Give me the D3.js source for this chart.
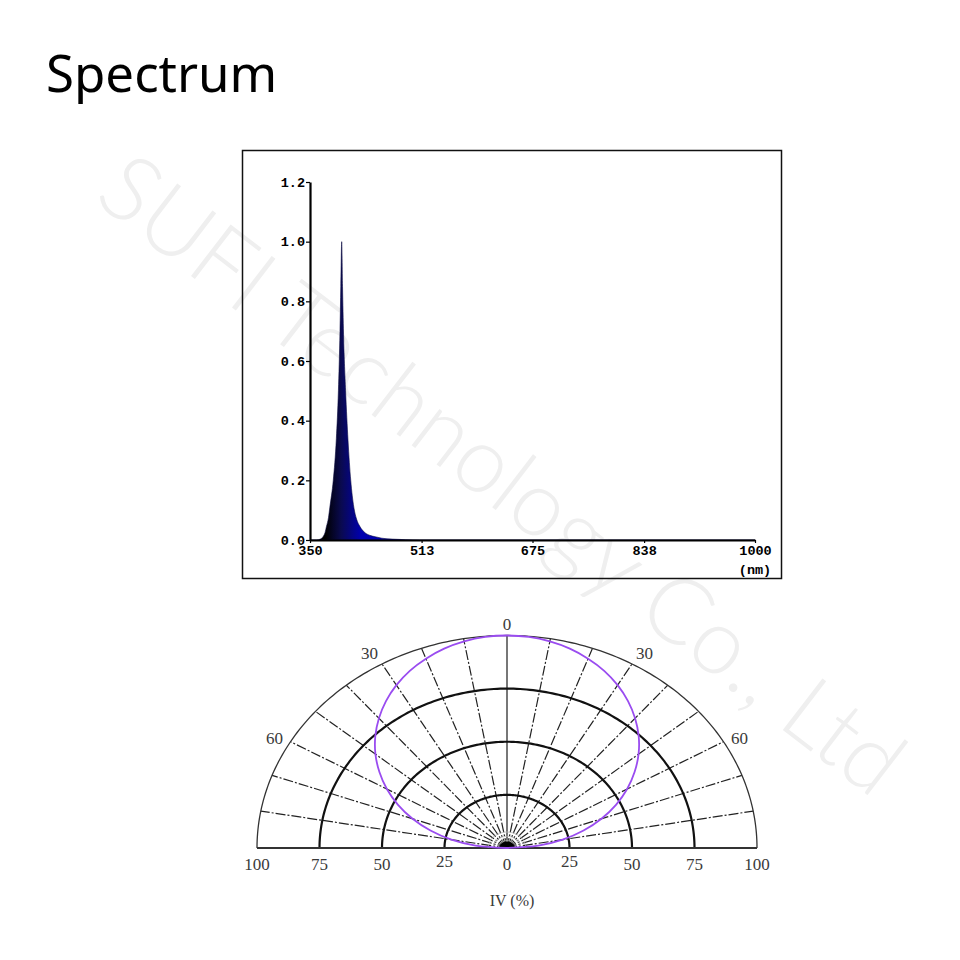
<!DOCTYPE html>
<html>
<head>
<meta charset="utf-8">
<script src="https://cdn.jsdelivr.net/npm/d3@7/dist/d3.min.js"></script>
<style>
  html, body { margin: 0; padding: 0; background: #fff; }
  svg { display: block; }
</style>
</head>
<body>
<svg id="chart" width="960" height="960"></svg>
<script>
// ---------- Data ----------
const titleText = "Spectrum";
const watermarkText = "SUFI Technology Co., Ltd";

// Spectrum: wavelength (nm) and relative intensity
const wavelengths = [350, 360, 365, 369, 372, 374, 377, 379, 384, 388.5, 391.5, 393.8, 395, 396.3, 397.5, 399, 402, 405.5, 409.5, 414, 418, 423, 430, 437, 445, 455, 470, 490, 510, 1000];
const intensities = [0, 0, 0.003, 0.011, 0.025, 0.045, 0.075, 0.11, 0.2, 0.34, 0.5, 0.7, 0.85, 1.0, 0.85, 0.69, 0.5, 0.335, 0.2, 0.11, 0.07, 0.045, 0.025, 0.016, 0.011, 0.006, 0.003, 0.001, 0, 0];
const xTickValues = [350, 513, 675, 838, 1000];
const yTickValues = [0, 0.2, 0.4, 0.6, 0.8, 1.0, 1.2];
const xUnitLabel = "(nm)";

// Polar radiation pattern: angle (deg) and relative intensity IV (%)
const angles = [-90, -85, -80, -75, -70, -65, -60, -55, -50, -45, -40, -35, -30, -25, -20, -15, -10, -5, 0, 5, 10, 15, 20, 25, 30, 35, 40, 45, 50, 55, 60, 65, 70, 75, 80, 85, 90];
const ivValues = [0, 12.6, 22.6, 31.7, 40.2, 48.1, 55.5, 62.3, 68.7, 74.5, 79.7, 84.4, 88.5, 92.0, 94.8, 97.1, 98.7, 99.7, 100, 99.7, 98.7, 97.1, 94.8, 92.0, 88.5, 84.4, 79.7, 74.5, 68.7, 62.3, 55.5, 48.1, 40.2, 31.7, 22.6, 12.6, 0];
const ringValues = [25, 50, 75, 100];
const spokeAngles = [-80, -70, -60, -50, -40, -30, -20, -10, 10, 20, 30, 40, 50, 60, 70, 80];
const angleLabels = [0, -30, 30, -60, 60];
const radialTickValues = [-100, -75, -50, -25, 0, 25, 50, 75, 100];
const polarAxisTitle = "IV (%)";

// ---------- Setup ----------
const svg = d3.select("#chart");

// Watermark
svg.append("text")
  .attr("transform", "translate(92,200) rotate(37.5)")
  .attr("font-family", "Lato, 'Open Sans', sans-serif")
  .attr("font-weight", 300)
  .attr("font-size", 92)
  .attr("fill", "#efefef")
  .attr("textLength", 985)
  .attr("lengthAdjust", "spacingAndGlyphs")
  .text(watermarkText);

// Title
svg.append("text")
  .attr("x", 46).attr("y", 92)
  .attr("font-family", "'Noto Sans', sans-serif")
  .attr("font-size", 51)
  .attr("fill", "#000")
  .text(titleText);

// ---------- Spectrum chart ----------
svg.append("rect")
  .attr("x", 242.5).attr("y", 150.5)
  .attr("width", 539).attr("height", 428)
  .attr("fill", "none").attr("stroke", "#111").attr("stroke-width", 1.5);

const sx = d3.scaleLinear().domain([350, 1000]).range([310, 755]);
const sy = d3.scaleLinear().domain([0, 1.2]).range([540, 182]);

const defs = svg.append("defs");
const grad = defs.append("linearGradient")
  .attr("id", "peakGrad")
  .attr("gradientUnits", "userSpaceOnUse")
  .attr("x1", sx(372)).attr("y1", 0)
  .attr("x2", sx(425)).attr("y2", 0);
grad.append("stop").attr("offset", "0%").attr("stop-color", "#000000");
grad.append("stop").attr("offset", "45%").attr("stop-color", "#0a0a50");
grad.append("stop").attr("offset", "100%").attr("stop-color", "#0000b0");

const specData = wavelengths.map((w, i) => ({ w, v: intensities[i] }));
const area = d3.area()
  .x(d => sx(d.w))
  .y0(sy(0))
  .y1(d => sy(d.v))
  .curve(d3.curveMonotoneX);

svg.append("path")
  .datum(specData)
  .attr("d", area)
  .attr("fill", "url(#peakGrad)")
  .attr("stroke", "#0a0a40")
  .attr("stroke-width", 0.6);

const monoFont = "'Liberation Mono', 'Courier New', monospace";
const monoSize = 13.5;

const xAxis = d3.axisBottom(sx)
  .tickValues(xTickValues)
  .tickFormat(d3.format("d"))
  .tickSizeInner(3).tickSizeOuter(0).tickPadding(2);
const gx = svg.append("g").attr("transform", `translate(0,${sy(0)})`).call(xAxis);
gx.select(".domain").attr("stroke", "#000").attr("stroke-width", 2.2);
gx.selectAll(".tick line").attr("stroke", "#000").attr("stroke-width", 1.2);
gx.selectAll(".tick text")
  .attr("font-family", monoFont).attr("font-weight", "bold")
  .attr("font-size", monoSize).attr("fill", "#000");

const yAxis = d3.axisLeft(sy)
  .tickValues(yTickValues)
  .tickFormat(d3.format(".1f"))
  .tickSizeInner(4).tickSizeOuter(0).tickPadding(1);
const gy = svg.append("g").attr("transform", `translate(${sx(350)},0)`).call(yAxis);
gy.select(".domain").attr("stroke", "#000").attr("stroke-width", 2.2);
gy.selectAll(".tick line").attr("stroke", "#000").attr("stroke-width", 1.2);
gy.selectAll(".tick text")
  .attr("font-family", monoFont).attr("font-weight", "bold")
  .attr("font-size", monoSize).attr("fill", "#000");

svg.append("text")
  .attr("x", sx(1000)).attr("y", 574)
  .attr("text-anchor", "middle")
  .attr("font-family", monoFont).attr("font-weight", "bold")
  .attr("font-size", monoSize).attr("fill", "#000")
  .text(xUnitLabel);

// ---------- Polar chart ----------
const cx = 507, cy = 848;
const rX = d3.scaleLinear().domain([0, 100]).range([0, 250]);
const rY = d3.scaleLinear().domain([0, 100]).range([0, 212.5]);
const rad = a => a * Math.PI / 180;
const px = (a, v) => cx + rX(v) * Math.sin(rad(a));
const py = (a, v) => cy - rY(v) * Math.cos(rad(a));

const pg = svg.append("g");
const arcAngles = d3.range(-90, 90.5, 1);
const ringLine = d3.line().x(d => px(d.a, d.v)).y(d => py(d.a, d.v));

// Spokes (dash-dot)
pg.selectAll("line.spoke")
  .data(spokeAngles)
  .join("line")
  .attr("class", "spoke")
  .attr("x1", cx).attr("y1", cy)
  .attr("x2", a => px(a, 100)).attr("y2", a => py(a, 100))
  .attr("stroke", "#222")
  .attr("stroke-width", 1.2)
  .attr("stroke-dasharray", "10,2,2,2");

// Vertical 0 axis
pg.append("line")
  .attr("x1", cx).attr("y1", cy)
  .attr("x2", px(0, 100)).attr("y2", py(0, 100))
  .attr("stroke", "#555").attr("stroke-width", 1.6);

// Rings
pg.selectAll("path.ring")
  .data(ringValues)
  .join("path")
  .attr("class", "ring")
  .attr("d", v => ringLine(arcAngles.map(a => ({ a, v }))))
  .attr("fill", "none")
  .attr("stroke", v => v === 100 ? "#333" : "#111")
  .attr("stroke-width", v => v === 100 ? 1.3 : 2.2);

// Baseline
pg.append("line")
  .attr("x1", px(-90, 100)).attr("y1", cy)
  .attr("x2", px(90, 100)).attr("y2", cy)
  .attr("stroke", "#333").attr("stroke-width", 2);

// Centre hub
[3.5, 5.5, 7.5].forEach(v => {
  pg.append("path")
    .attr("d", ringLine(arcAngles.map(a => ({ a, v }))))
    .attr("fill", "none").attr("stroke", "#bbb").attr("stroke-width", 1);
});
pg.append("path")
  .attr("d", ringLine(arcAngles.map(a => ({ a, v: 3 }))) + "Z")
  .attr("fill", "#000");

// Intensity curve
const curveData = angles.map((a, i) => ({ a, v: ivValues[i] }));
pg.append("path")
  .datum(curveData)
  .attr("d", d3.line().x(d => px(d.a, d.v)).y(d => py(d.a, d.v)).curve(d3.curveCatmullRom))
  .attr("fill", "none")
  .attr("stroke", "#9a4cf0")
  .attr("stroke-width", 1.8);

const serif = "'Liberation Serif', 'Times New Roman', serif";

// Angle labels
pg.selectAll("text.ang")
  .data(angleLabels)
  .join("text")
  .attr("class", "ang")
  .attr("x", a => px(a, 100) + (a === 0 ? 0 : (a < 0 ? -14 : 14)) * (Math.abs(a) === 60 ? 1.15 : 0.9))
  .attr("y", a => py(a, 100) - (a === 0 ? 6 : (Math.abs(a) === 30 ? 5 : -2)))
  .attr("text-anchor", "middle")
  .attr("font-family", serif)
  .attr("font-size", 17)
  .attr("fill", "#3a3a3a")
  .text(a => Math.abs(a));

// Radial tick labels
pg.selectAll("text.rt")
  .data(radialTickValues)
  .join("text")
  .attr("class", "rt")
  .attr("x", v => cx + (v < 0 ? -rX(-v) : rX(v)))
  .attr("y", v => Math.abs(v) === 25 ? 867 : 870)
  .attr("text-anchor", "middle")
  .attr("font-family", serif)
  .attr("font-size", 17)
  .attr("fill", "#3a3a3a")
  .text(v => Math.abs(v));

pg.append("text")
  .attr("x", cx + 5).attr("y", 906)
  .attr("text-anchor", "middle")
  .attr("font-family", serif)
  .attr("font-size", 16)
  .attr("fill", "#3a3a3a")
  .text(polarAxisTitle);
</script>
</body>
</html>
